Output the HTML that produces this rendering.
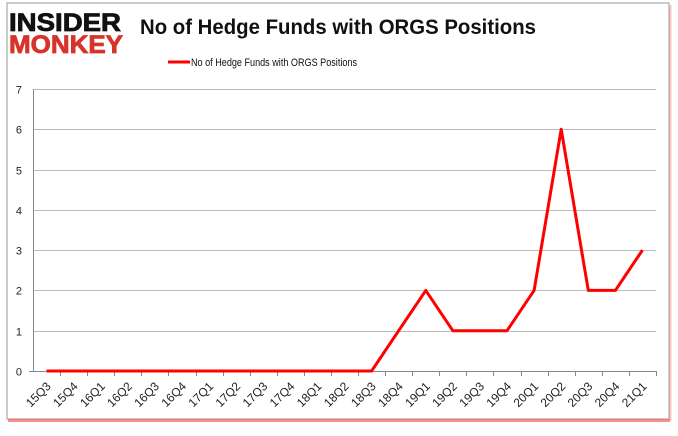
<!DOCTYPE html>
<html><head><meta charset="utf-8"><style>
body{margin:0;width:678px;height:431px;background:#fff;overflow:hidden;font-family:"Liberation Sans",sans-serif}
</style></head><body>
<svg width="678" height="431" xmlns="http://www.w3.org/2000/svg">
<rect x="7" y="3" width="662" height="416" fill="#fff" stroke="#999" stroke-width="1"/>
<line x1="8" y1="420.5" x2="670" y2="420.5" stroke="#f44" stroke-width="3" opacity="0.6"/>
<line x1="670.5" y1="5" x2="670.5" y2="421" stroke="#f88" stroke-width="2" opacity="0.5"/>
<g font-family="'Liberation Sans',sans-serif" font-weight="bold">
<text x="9" y="31" font-size="25" fill="#111" stroke="#111" stroke-width="0.8" textLength="112" lengthAdjust="spacingAndGlyphs">INSIDER</text>
<text x="9" y="53" font-size="25" fill="#d6342a" stroke="#d6342a" stroke-width="0.8" textLength="114" lengthAdjust="spacingAndGlyphs">MONKEY</text>
</g>
<text x="140" y="34" font-size="21" font-weight="bold" fill="#111" textLength="396" lengthAdjust="spacingAndGlyphs">No of Hedge Funds with ORGS Positions</text>
<g>
<line x1="168" y1="62" x2="190" y2="62" stroke="#f00" stroke-width="3"/>
<text x="191" y="66" font-size="11" fill="#111" textLength="166" lengthAdjust="spacingAndGlyphs">No of Hedge Funds with ORGS Positions</text>
</g>
<g id="grid"></g><g id="axes"></g><g id="series"></g>
</svg>
<script>
const categories=["15Q3","15Q4","16Q1","16Q2","16Q3","16Q4","17Q1","17Q2","17Q3","17Q4","18Q1","18Q2","18Q3","18Q4","19Q1","19Q2","19Q3","19Q4","20Q1","20Q2","20Q3","20Q4","21Q1"];
const values=[0,0,0,0,0,0,0,0,0,0,0,0,0,1,2,1,1,1,2,6,2,2,3];
const yTicks=[0,1,2,3,4,5,6,7];
const ns="http://www.w3.org/2000/svg";
const X0=33,X1=656,Y0=371,Y1=89,YMAX=7;
const step=(X1-X0)/categories.length;
const xs=i=>X0+step*(i+0.5);
const ys=v=>Y0-(Y0-Y1)*v/YMAX;
function mk(t,a,p){const e=document.createElementNS(ns,t);for(const k in a)e.setAttribute(k,a[k]);p.appendChild(e);return e;}
const grid=document.getElementById('grid'),axes=document.getElementById('axes'),series=document.getElementById('series');
yTicks.forEach(v=>{
 const y=Math.round(ys(v))+0.5;
 if(v>0){const g=mk('line',{x1:X0,x2:X1,y1:y,y2:y,stroke:'#bbb'},grid);
 
 }
 const t=mk('text',{x:22,y:y+4,'font-size':11,fill:'#222','text-anchor':'end'},axes);
 t.textContent=v;
 
 
});
mk('line',{x1:X0+0.5,x2:X0+0.5,y1:Y1,y2:Y0,stroke:'#888'},axes);
mk('line',{x1:X0-4,x2:X1,y1:Y0+0.5,y2:Y0+0.5,stroke:'#888'},axes);
categories.forEach((c,i)=>{
 const tx=Math.round(X0+step*(i+1))+0.5;
 mk('line',{x1:tx,x2:tx,y1:Y0,y2:Y0+5,stroke:'#888'},axes);
 const x=xs(i),y=Y0+12;
 const t=mk('text',{x:x+5,y:y+4,'font-size':12,fill:'#222','text-anchor':'end',transform:`rotate(-45 ${x+5} ${y+4})`},axes);
 t.textContent=c;
 
 
});
const pl=mk('polyline',{points:values.map((v,i)=>xs(i)+','+ys(v)).join(' '),fill:'none',stroke:'#f00','stroke-width':3,'stroke-linejoin':'round'},series);


</script>
</body></html>
